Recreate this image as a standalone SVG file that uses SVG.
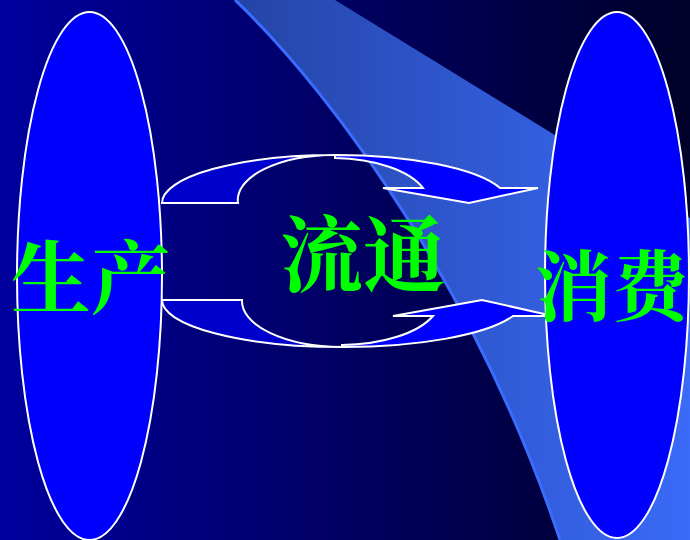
<svg xmlns="http://www.w3.org/2000/svg" width="690" height="540" viewBox="0 0 690 540">
  <defs>
    <linearGradient id="bg" x1="0" y1="0" x2="690" y2="0" gradientUnits="userSpaceOnUse">
      <stop offset="0" stop-color="#00009e"/>
      <stop offset="0.5" stop-color="#000062"/>
      <stop offset="1" stop-color="#000028"/>
    </linearGradient>
    <linearGradient id="band" x1="235" y1="0" x2="690" y2="0" gradientUnits="userSpaceOnUse">
      <stop offset="0" stop-color="#2444a6"/>
      <stop offset="1" stop-color="#3a6af8"/>
    </linearGradient>
    <style>
      .node { fill: #0000ff; stroke: #ffffff; stroke-width: 2; }
      .lbl { fill: #00ff00; font-family: "Noto Serif CJK SC", "Noto Sans CJK SC", serif; font-weight: bold; font-size: 79px; text-anchor: middle; }
      .back { fill: #0000cc; stroke: #ffffff; stroke-width: 2; stroke-linejoin: miter; }
      .front { fill: #0000ff; stroke: #ffffff; stroke-width: 2; stroke-linejoin: miter; }
    </style>
  </defs>
  <rect x="0" y="0" width="690" height="540" fill="url(#bg)"/>
  <path d="M235,0 L335,0 L690,218 L690,540 L560,540 C480,300 340,100 235,0 Z" fill="url(#band)"/>
  <path d="M235,0 C340,100 480,300 560,540" fill="none" stroke="#3a6cff" stroke-width="3"/>

  <g id="left-node">
    <ellipse class="node" cx="89.5" cy="276" rx="72.5" ry="264"/>
  </g>
  <g id="right-node">
    <ellipse class="node" cx="617" cy="275" rx="72" ry="263"/>
  </g>

  <g id="connectors">
    <path class="back" d="M162,203 A173,48 0 0 1 335,155 A97,45 0 0 0 238,203 Z"/>
    <path class="front" d="M335,155 A173,48 0 0 1 500,188 L538,188 L469,203 L383,188 L423,188 A97,45 0 0 0 335,158 Z"/>
    <path class="back" d="M162,300 A180,47 0 0 0 342,347 A100,46 0 0 1 242,300 Z"/>
    <path class="front" d="M342,347 A180,47 0 0 0 513,316 L553,316 L482,300 L393,316 L433,316 A100,46 0 0 1 342,345 Z"/>
  </g>

  <g id="label-left">
    <text class="lbl" x="91" y="307" style="font-size:80px">生产</text>
  </g>
  <g id="label-center">
    <text class="lbl" x="363" y="285" style="font-size:83px">流通</text>
  </g>
  <g id="label-right">
    <text class="lbl" x="612" y="315" style="font-size:77px">消费</text>
  </g>
</svg>
